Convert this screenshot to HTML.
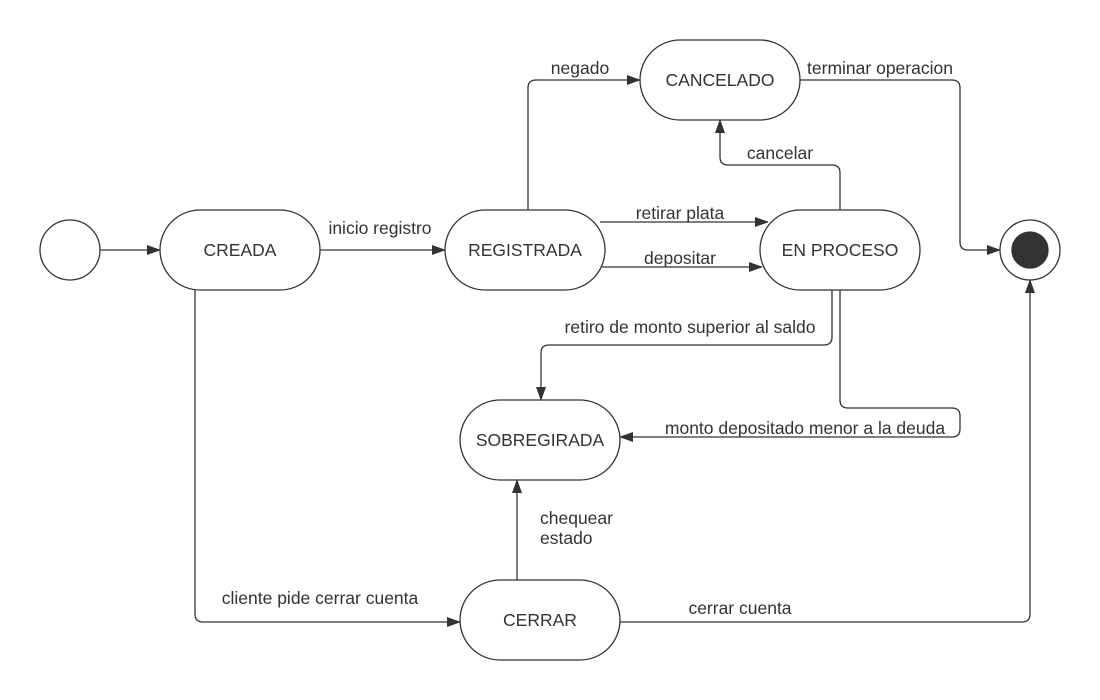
<!DOCTYPE html>
<html><head><style>body{margin:0;background:#fff}svg{display:block}text{font-family:"Liberation Sans",sans-serif;font-size:17.5px;fill:#333}</style></head>
<body><svg width="1100" height="700" viewBox="0 0 1100 700">
<defs><marker id="a" markerWidth="14" markerHeight="10" refX="13" refY="5" orient="auto" markerUnits="userSpaceOnUse"><path d="M0,0L14,5L0,10z" fill="#333"/></marker></defs>
<g fill="#fff" stroke="#333" stroke-width="1.3">
<circle cx="70" cy="250" r="30"/>
<rect x="160" y="210" width="160" height="80" rx="40"/>
<rect x="445" y="210" width="160" height="80" rx="40"/>
<rect x="760" y="210" width="160" height="80" rx="40"/>
<rect x="640" y="40" width="160" height="80" rx="40"/>
<rect x="460" y="400" width="160" height="80" rx="40"/>
<rect x="460" y="580" width="160" height="80" rx="40"/>
<circle cx="1030" cy="250" r="30"/>
<circle cx="1030" cy="250" r="18" fill="#333"/>
</g>
<g fill="none" stroke="#333" stroke-width="1.3" marker-end="url(#a)">
<path d="M100,250H160"/>
<path d="M320,250H445"/>
<path d="M528,210V88Q528,80 536,80H640"/>
<path d="M800,80H952Q960,80 960,88V242Q960,250 968,250H1000"/>
<path d="M840,210V173Q840,165 832,165H728Q720,165 720,157V120"/>
<path d="M600,222H768"/>
<path d="M602,267H762"/>
<path d="M832,290V337Q832,345 824,345H549Q541,345 541,353V400"/>
<path d="M840,290V400Q840,408 848,408H952Q960,408 960,416V429Q960,437 952,437H620"/>
<path d="M517,580V480"/>
<path d="M195,290V614Q195,622 203,622H460"/>
<path d="M620,622H1022Q1030,622 1030,614V280"/>
</g>
<g text-anchor="middle">
<text x="240" y="256">CREADA</text>
<text x="525" y="256">REGISTRADA</text>
<text x="840" y="256">EN PROCESO</text>
<text x="720" y="86">CANCELADO</text>
<text x="540" y="446">SOBREGIRADA</text>
<text x="540" y="626">CERRAR</text>
<text x="380" y="234">inicio registro</text>
<text x="580" y="74">negado</text>
<text x="880" y="74">terminar operacion</text>
<text x="780" y="159">cancelar</text>
<text x="680" y="219">retirar plata</text>
<text x="680" y="264">depositar</text>
<text x="690" y="333">retiro de monto superior al saldo</text>
<text x="805" y="434">monto depositado menor a la deuda</text>
<text x="320" y="604">cliente pide cerrar cuenta</text>
<text x="740" y="614">cerrar cuenta</text>
</g>
<text x="540" y="524">chequear</text>
<text x="540" y="544">estado</text>
</svg></body></html>
